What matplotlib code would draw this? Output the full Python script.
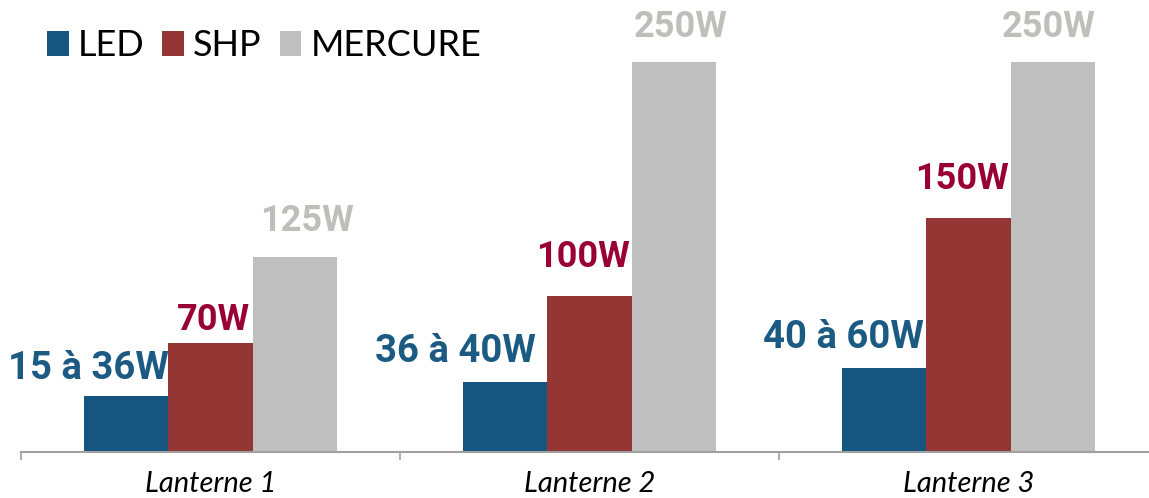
import numpy as np
import matplotlib
matplotlib.use("Agg")
import matplotlib.pyplot as plt

# === Data ===
lanternes = ["Lanterne 1", "Lanterne 2", "Lanterne 3"]
series = ["LED", "SHP", "MERCURE"]
led = [36, 45, 54]
shp = [70, 100, 150]
mercure = [125, 250, 250]
led_labels = ["15 à 36W", "36 à 40W", "40 à 60W"]
shp_labels = ["70W", "100W", "150W"]
mercure_labels = ["125W", "250W", "250W"]

# === Style ===
colors = ["#15557F", "#943634", "#BFBFBF"]
label_colors = ["#1B5A82", "#990033", "#BFBFBA"]
bar_w = 0.222

fig = plt.figure(figsize=(11.49, 4.98), dpi=100)
# axes is wider than the figure: the last group boundary falls off the right edge
ax = fig.add_axes([21 / 1149, (498 - 451.7) / 498, 1137 / 1149, 451.7 / 498])

x = np.arange(len(lanternes))
values = [led, shp, mercure]
bars = []
for i, (vals, c) in enumerate(zip(values, colors)):
    b = ax.bar(x + (i - 1) * bar_w, vals, width=bar_w, color=c, label=series[i], zorder=2)
    bars.append(b)

ax.set_xlim(-0.5, len(lanternes) - 0.5)
ax.set_ylim(0, 250 * 451.7 / 389.7)

# === Data labels ===
def add_labels(bar_set, labels, color, ha, dx, dy, size):
    for rect, lab, ox, oy in zip(bar_set, labels, dx, dy):
        if ha == "right":
            xa = rect.get_x() + rect.get_width()
        else:
            xa = rect.get_x() + rect.get_width() / 2
        ax.annotate(lab, xy=(xa, rect.get_height()), xytext=(ox, oy),
                    textcoords="offset points", ha=ha, va="bottom",
                    color=color, fontsize=size, fontweight="bold", family="Roboto")

add_labels(bars[0], led_labels, label_colors[0], "right", [0, -8, -1.5], [6, 8, 8], 27.5)
add_labels(bars[1], shp_labels, label_colors[1], "right", [-2, -1.5, -1.5], [3.5, 15, 15], 26)
add_labels(bars[2], mercure_labels, label_colors[2], "center", [9, 5, -3], [12.5, 12.5, 12.5], 26)

# === Axes styling ===
for s in ["top", "right", "left"]:
    ax.spines[s].set_visible(False)
ax.spines["bottom"].set_color("#A0A0A0")
ax.spines["bottom"].set_linewidth(1.5)
ax.set_yticks([])
ax.set_xticks(np.arange(len(lanternes) + 1) - 0.5)
ax.set_xticklabels([])
ax.tick_params(axis="x", length=6, width=1.2, color="#A0A0A0", direction="out")
ax.set_xticks(x, minor=True)
ax.set_xticklabels(lanternes, minor=True, fontsize=21, style="italic", family="Lato")
ax.tick_params(axis="x", which="minor", length=0, pad=14)

# === Legend ===
fig.legend(handles=bars, labels=series, loc="upper left", bbox_to_anchor=(0.022, 0.985),
           ncol=3, frameon=False, prop={"family": "Lato", "size": 26},
           handlelength=0.6, handleheight=0.65, handletextpad=0.25, columnspacing=0.5,
           borderaxespad=0.2)

fig.savefig("out.png", dpi=100)
